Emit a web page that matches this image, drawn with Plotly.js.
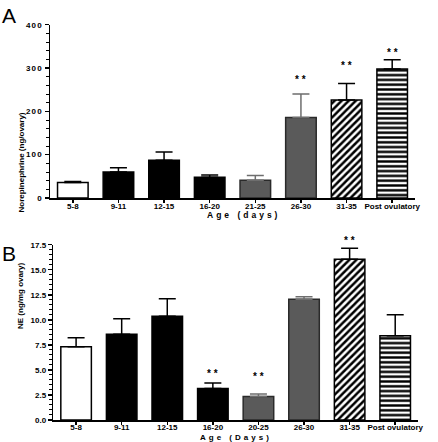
<!DOCTYPE html>
<html><head><meta charset="utf-8">
<script src="https://cdn.plot.ly/plotly-3.0.1.min.js"></script>
<style>
html,body{margin:0;padding:0;background:#fff;}
#chart{width:438px;height:442px;}
.ytick text{letter-spacing:1.2px;}
</style></head><body><div id="chart"></div>
<script>
// ---------- data ----------
const categoriesA = ["5-8", "9-11", "12-15", "16-20", "21-25", "26-30", "31-35", "Post ovulatory"];
const valuesA     = [36, 60, 87, 48, 41, 186, 226, 298];
const errorsA     = [2, 10, 19, 5, 11, 54, 38, 21];
const starsA      = ["", "", "", "", "", "* *", "* *", "* *"];
const starLevelA  = [null, null, null, null, null, 274, 305, 335];
const rangeA      = [0, 400];

const categoriesB = ["5-8", "9-11", "12-15", "16-20", "20-25", "26-30", "31-35", "Post ovulatory"];
const valuesB     = [7.3, 8.55, 10.35, 3.15, 2.35, 12.05, 16.05, 8.4];
const errorsB     = [0.9, 1.55, 1.75, 0.55, 0.25, 0.25, 1.1, 2.1];
const starsB      = ["", "", "", "* *", "* *", "", "* *", ""];
const starLevelB  = [null, null, null, 4.66, 4.39, null, 17.96, null];
const rangeB      = [0, 17.5];

const barStyles   = ["white", "black", "black", "black", "gray", "gray", "diag", "horiz"];

const yTitleA = "Norepinephrine (ng/ovary)";
const yTitleB = "NE (ng/mg ovary)";
const xTitleA = "Age (days)";
const xTitleB = "Age (Days)";

// ---------- styles ----------
const STY = {
  white: {marker: {color: "#ffffff", line: {color: "#000", width: 1.5}}, err: "#000"},
  black: {marker: {color: "#000000", line: {color: "#000", width: 1.5}}, err: "#000"},
  gray:  {marker: {color: "#5a5a5a", line: {color: "#2a2a2a", width: 1.5}}, err: "#6e6e6e"},
  diag:  {marker: {color: "#ffffff", line: {color: "#000", width: 1.5},
          pattern: {shape: "/", fgcolor: "#000", bgcolor: "#fff", size: 5, solidity: 0.5}}, err: "#000"},
  horiz: {marker: {color: "#ffffff", line: {color: "#000", width: 1.5},
          pattern: {shape: "-", fgcolor: "#000", bgcolor: "#fff", size: 4.8, solidity: 0.5}}, err: "#000"}
};

function buildPanel(cats, vals, errs, xa, ya) {
  const traces = [];
  ["white", "black", "gray", "diag", "horiz"].forEach(function (s) {
    const idx = barStyles.map((b, i) => b === s ? i : -1).filter(i => i >= 0);
    traces.push({
      type: "bar",
      x: idx.map(i => cats[i]),
      y: idx.map(i => vals[i]),
      width: 0.67,
      marker: STY[s].marker,
      error_y: {type: "data", symmetric: false, array: idx.map(i => errs[i]),
                arrayminus: idx.map(() => 0), color: STY[s].err, thickness: 1.5, width: 8.5},
      xaxis: xa, yaxis: ya, showlegend: false, hoverinfo: "skip"
    });
  });
  return traces;
}
// stars: placed on the axis' own domain scale so the ones above the top tick stay visible
function starNotes(cats, stars, lvl, rng, xr, yr) {
  const out = [];
  stars.forEach(function (t, i) {
    if (!t) return;
    out.push({text: t, x: cats[i], y: (lvl[i] - rng[0]) / (rng[1] - rng[0]),
      xref: xr, yref: yr + " domain", showarrow: false,
      xanchor: "center", yanchor: "middle",
      font: {family: "Liberation Sans, Arial", size: 10, color: "#000", weight: "bold"}});
  });
  return out;
}

const data = buildPanel(categoriesA, valuesA, errorsA, "x", "y")
  .concat(buildPanel(categoriesB, valuesB, errorsB, "x2", "y2"));

const xTickFont = {family: "Liberation Sans, Arial", size: 8, color: "#000", weight: "bold"};
const yTickFont = {family: "Liberation Sans, Arial", size: 8, color: "#000", weight: "bold"};
const W = 438, H = 442;

function xAxis(cats, x0, x1, anchor, standoff) {
  return {type: "category", categoryorder: "array", categoryarray: cats, range: [-0.5, 7.5],
    domain: [x0 / W, x1 / W], anchor: anchor, showline: true, linecolor: "#000", linewidth: 1.5,
    ticks: "outside", ticklen: 3, tickwidth: 1.5, tickcolor: "#000", tickfont: xTickFont,
    ticklabelstandoff: standoff,
    showgrid: false, zeroline: false, fixedrange: true};
}
function yAxis(rng, dt, minorDt, fmt, top, bottom, anchor) {
  return {range: rng, tick0: 0, dtick: dt, tickformat: fmt, domain: [1 - bottom / H, 1 - top / H],
    anchor: anchor, showline: true, linecolor: "#000", linewidth: 1.5,
    ticks: "outside", ticklen: 4, tickwidth: 1.5, tickcolor: "#000", tickfont: yTickFont,
    minor: {dtick: minorDt, ticks: "outside", ticklen: 2.5, tickwidth: 1, tickcolor: "#000", showgrid: false},
    showgrid: false, zeroline: false, fixedrange: true};
}

const titleFont = {family: "Liberation Sans Narrow, Liberation Sans, Arial", size: 8, color: "#000", weight: "bold"};
const xTitleFont = {family: "Liberation Sans, Arial", size: 8.5, color: "#000", weight: "bold"};
const xTitleFontB = {family: "Liberation Sans, Arial", size: 8, color: "#000", weight: "bold"};

const layout = {
  width: W, height: H, margin: {l: 0, r: 0, t: 0, b: 0},
  paper_bgcolor: "#fff", plot_bgcolor: "rgba(0,0,0,0)",
  barmode: "overlay", showlegend: false,
  font: {family: "Liberation Sans, Arial", color: "#000"},
  xaxis: xAxis(categoriesA, 50, 415, "y", -3),
  yaxis: yAxis(rangeA, 100, 20, "d", 24.7, 198, "x"),
  xaxis2: xAxis(categoriesB, 53.3, 418, "y2", -4),
  yaxis2: yAxis(rangeB, 2.5, 0.5, ".1f", 244.7, 420, "x2"),
  annotations: [
    {text: "A", xref: "paper", yref: "paper", x: 0 / W, y: 1 - 2 / H, xanchor: "left", yanchor: "top",
     showarrow: false, font: {family: "Liberation Sans, Arial", size: 21, color: "#000"}},
    {text: "B", xref: "paper", yref: "paper", x: 0 / W, y: 1 - 240 / H, xanchor: "left", yanchor: "top",
     showarrow: false, font: {family: "Liberation Sans, Arial", size: 21, color: "#000"}},
    {text: yTitleA, xref: "paper", yref: "paper", x: 14 / W, y: 1 - 111 / H, textangle: -90,
     showarrow: false, font: titleFont},
    {text: yTitleB, xref: "paper", yref: "paper", x: 14 / W, y: 1 - 331 / H, textangle: -90,
     showarrow: false, font: titleFont},
    {text: xTitleA, xref: "paper", yref: "paper", x: 244 / W, y: 1 - 215 / H,
     showarrow: false, font: xTitleFont},
    {text: xTitleB, xref: "paper", yref: "paper", x: 236 / W, y: 0, yanchor: "bottom", yshift: -2,
     showarrow: false, font: xTitleFontB}
  ].concat(starNotes(categoriesA, starsA, starLevelA, rangeA, "x", "y"))
   .concat(starNotes(categoriesB, starsB, starLevelB, rangeB, "x2", "y2"))
};

Plotly.newPlot("chart", data, layout, {displayModeBar: false, staticPlot: true}).then(function () {
  document.querySelectorAll(".annotation-text").forEach(function (t) {
    if (t.textContent === xTitleA || t.textContent === xTitleB) t.style.letterSpacing = "3px";
  });
});
</script></body></html>
